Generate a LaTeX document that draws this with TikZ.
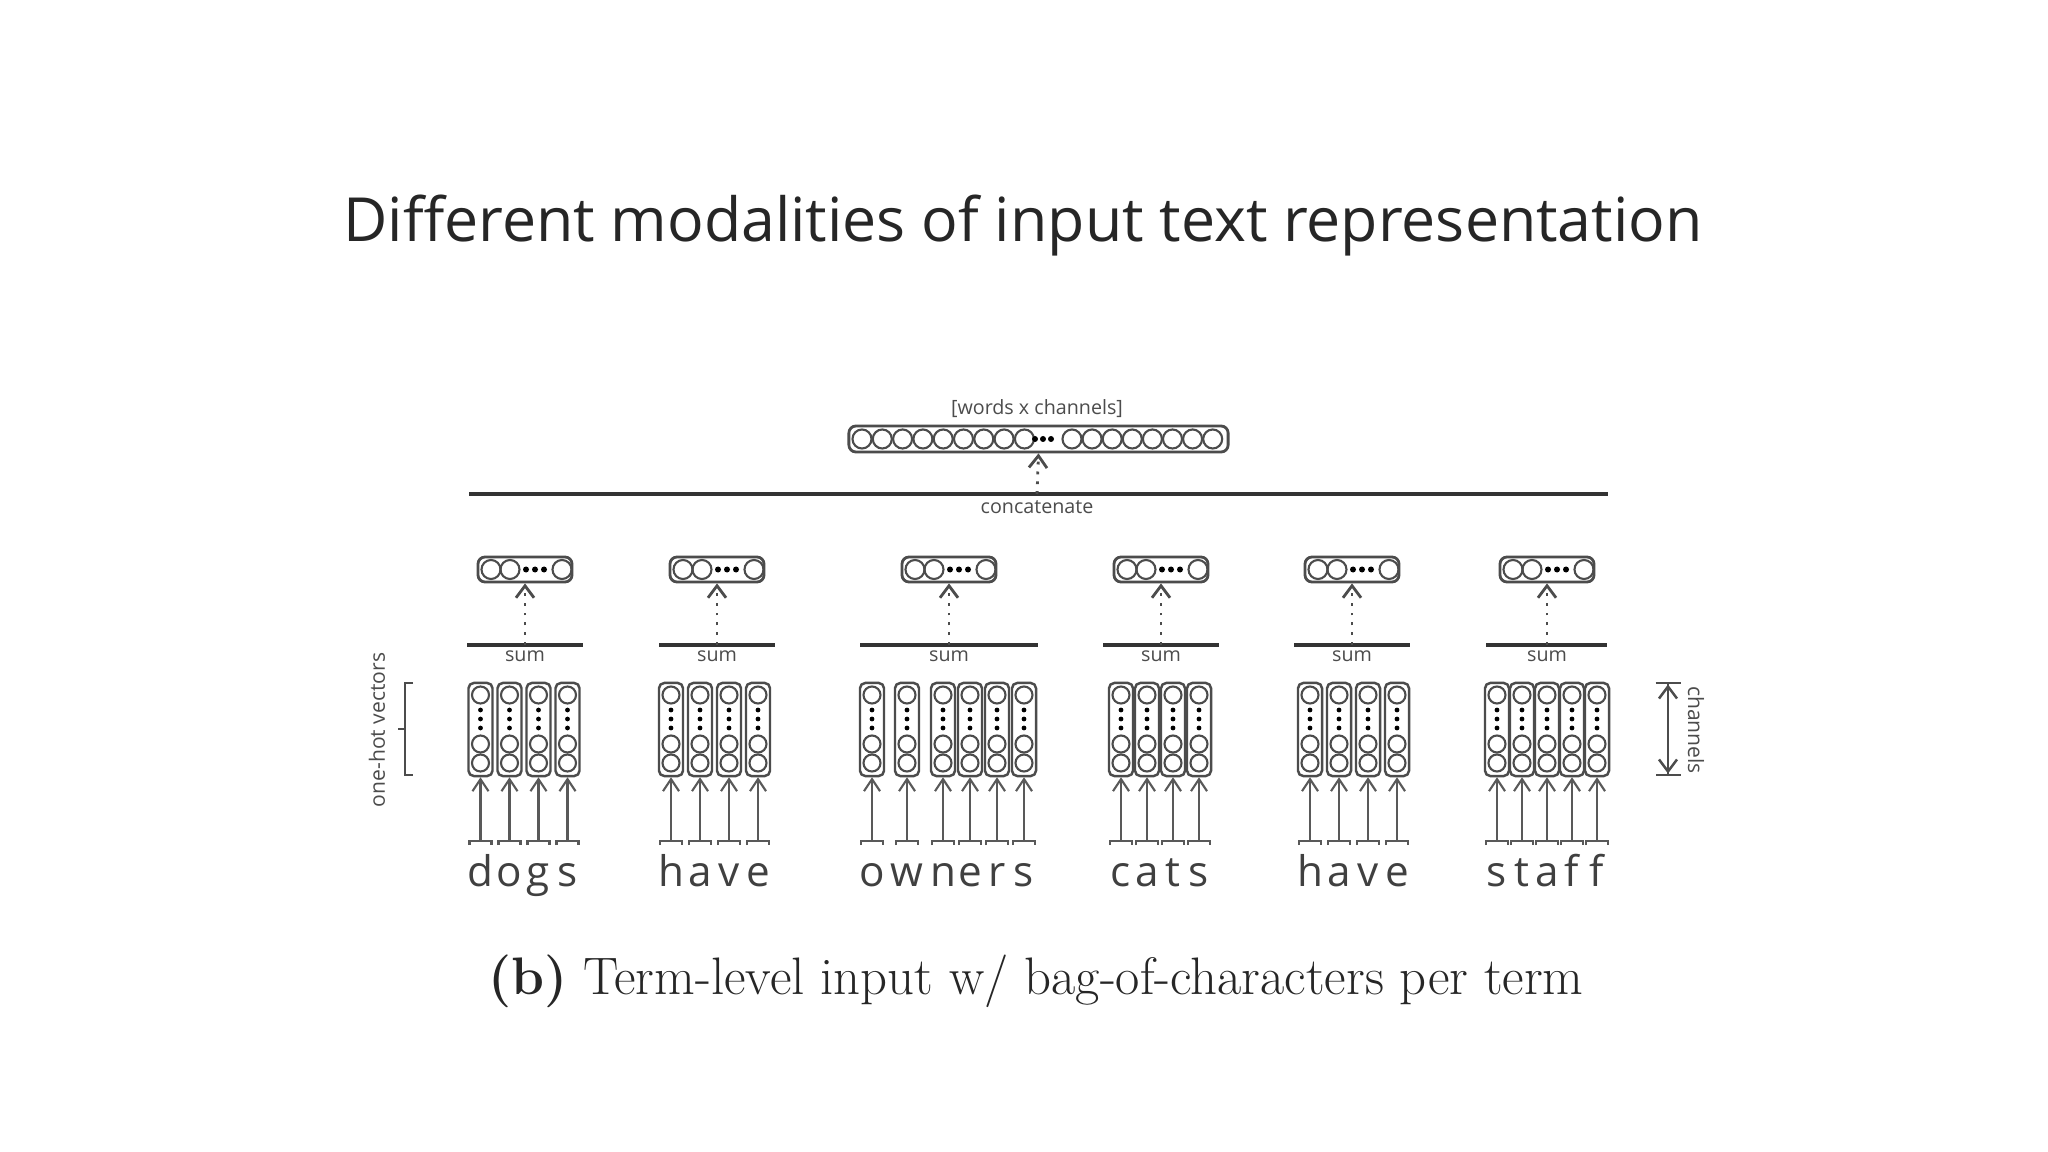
\documentclass[tikz,border=0pt]{standalone}
\usepackage{fontspec}
\setsansfont{Open Sans}
\newfontfamily\titlefont{Open Sans}
\usetikzlibrary{arrows.meta,calc}
\tikzset{
  colbox/.style={draw=black!70,line width=0.7pt,rounded corners=1.5pt,minimum width=0.24cm,minimum height=0.93cm,inner sep=0pt},
  sumbox/.style={draw=black!70,line width=0.8pt,rounded corners=2pt,minimum width=0.94cm,minimum height=0.25cm,inner sep=0pt},
  circ/.style={draw=black!70,line width=0.6pt},
  inarrow/.style={draw=black!65,line width=0.6pt,-{Straight Barb[length=1.2mm,width=1.6mm]}},
  dotarrow/.style={draw=black!70,line width=0.8pt,dotted,-{Straight Barb[length=1.2mm,width=1.8mm]}},
  barline/.style={draw=black!80,line width=1.4pt},
  smalltxt/.style={font=\sffamily\fontsize{5.6}{7}\selectfont,text=black!70,inner sep=0pt},
  lettxt/.style={font=\sffamily\fontsize{12}{14}\selectfont,text=black!75,inner sep=0pt,anchor=base}
}
\newcommand\mycol[3]{% name, x, letter
  \node[colbox] (c#1) at (#2,729.5) {};
  \foreach \yy in {695,744,763} \draw[circ] (#2,\yy) circle[radius=0.085cm];
  \foreach \yy in {710,719,728} \fill (#2,\yy) circle[radius=0.024cm];
  \coordinate (b#1) at (#2,841);
  \draw[black!65,line width=0.6pt] ($(b#1)+(-11,4)$) -- ++(0,-4) -- ++(22,0) -- ++(0,4);
  \draw[inarrow] (b#1) -- (c#1.south);
  \node[lettxt] (l#1) at (#2,886) {#3};
}
\newcommand\mygroup[4]{% name, center, left, right
  \node[sumbox] (t#1) at (#2,569.5) {};
  \draw[circ] (#2-34,569.5) circle[radius=0.095cm];
  \draw[circ] (#2-15,569.5) circle[radius=0.095cm];
  \foreach \dd in {1,10,19} \fill (#2+\dd,569.5) circle[radius=0.03cm];
  \draw[circ] (#2+37,569.5) circle[radius=0.095cm];
  \coordinate (s#1) at (#2,645);
  \draw[barline] (#3,645) -- (#4,645);
  \node[smalltxt] (st#1) at (#2,656) {sum};
  \draw[dotarrow] (s#1) -- (t#1.south);
}
\begin{document}
\begin{tikzpicture}[x=0.01cm,y=-0.01cm]
\useasboundingbox (0,0) rectangle (2048,1152);
\fill[white] (0,0) rectangle (2048,1152);
% title
\node[font=\titlefont\fontsize{17.3}{21}\selectfont,text=black!85] (title) at (1023,226) {Different modalities of input text representation};
% top vector
\node[draw=black!70,line width=0.8pt,rounded corners=2pt,minimum width=3.79cm,minimum height=0.26cm,inner sep=0pt] (top) at (1038.5,439) {};
\foreach \i in {0,...,8} \draw[circ] (862+20.3*\i,439) circle[radius=0.095cm];
\foreach \i in {0,...,7} \draw[circ] (1072+20.1*\i,439) circle[radius=0.095cm];
\foreach \dd in {1035,1043,1051} \fill (\dd,439) circle[radius=0.03cm];
\node[smalltxt] (wc) at (1037,409) {[words x channels]};
\coordinate (cc) at (1037,494);
\draw[barline] (469,494) -- (1608,494);
\node[smalltxt] (concat) at (1037,507) {concatenate};
\draw[dotarrow] (cc) -- (top.south);
% groups
\mygroup{1}{525}{467}{583}
\mygroup{2}{717}{659}{775}
\mygroup{3}{949}{860}{1038}
\mygroup{4}{1161}{1103}{1219}
\mygroup{5}{1352}{1294}{1410}
\mygroup{6}{1547}{1486}{1607}
\mycol{a1}{480.5}{d}\mycol{a2}{509.5}{o}\mycol{a3}{538.5}{g}\mycol{a4}{567.5}{s}
\mycol{b1}{671}{h}\mycol{b2}{700}{a}\mycol{b3}{729}{v}\mycol{b4}{758}{e}
\mycol{c1}{872}{o}\mycol{c2}{907}{w}\mycol{c3}{943}{n}\mycol{c4}{970}{e}\mycol{c5}{997}{r}\mycol{c6}{1024}{s}
\mycol{d1}{1121}{c}\mycol{d2}{1147}{a}\mycol{d3}{1173}{t}\mycol{d4}{1199}{s}
\mycol{e1}{1310}{h}\mycol{e2}{1339}{a}\mycol{e3}{1368}{v}\mycol{e4}{1397}{e}
\mycol{f1}{1497}{s}\mycol{f2}{1522}{t}\mycol{f3}{1547}{a}\mycol{f4}{1572}{f}\mycol{f5}{1597}{f}
% one-hot bracket
\draw[black!70,line width=0.7pt] (413,683) -- (405,683) -- (405,775) -- (413,775);
\draw[black!70,line width=0.7pt] (405,729) -- (398,729);
\node[smalltxt,font=\sffamily\fontsize{6}{7}\selectfont,rotate=90] (oh) at (377,730) {one-hot vectors};
% channels
\draw[black!70,line width=0.7pt,{Bar[width=2.5mm]Straight Barb[length=1.2mm,width=1.8mm]}-{Straight Barb[length=1.2mm,width=1.8mm]Bar[width=2.5mm]}] (1668,682) -- (1668,776);
\node[smalltxt,font=\sffamily\fontsize{6}{7}\selectfont,rotate=-90] (ch) at (1696,730) {channels};
% caption
\node[font=\fontsize{15}{18}\selectfont,text=black!85] (cap) at (1036,981) {\textbf{(b)} Term-level input w/ bag-of-characters per term};
\end{tikzpicture}
\end{document}
